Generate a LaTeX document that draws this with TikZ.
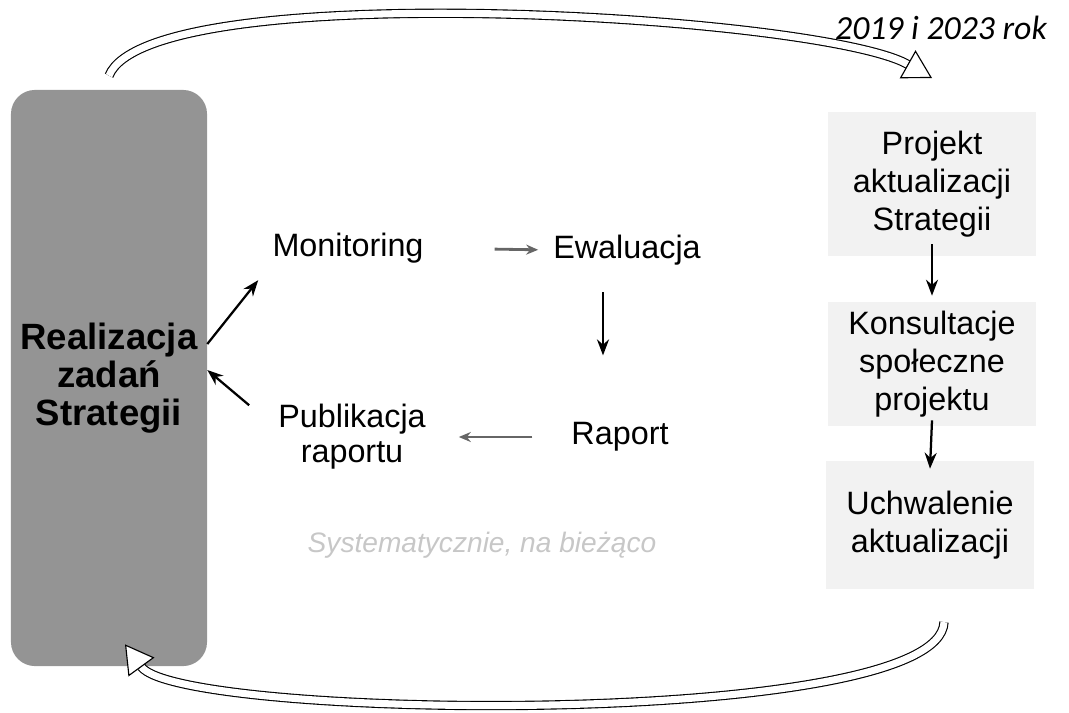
\documentclass[tikz,border=0pt]{standalone}
\usepackage{fontspec}
\setmainfont{Liberation Sans}
\newfontfamily\yearfont{Carlito}
\usetikzlibrary{arrows.meta, positioning, calc}

\begin{document}
\begin{tikzpicture}[
  x=0.025cm, y=-0.025cm,
  mainbox/.style={fill=black!42, rounded corners=0.6cm, minimum width=4.9cm, minimum height=14.4cm, align=center, font=\fontsize{26}{27}\selectfont\bfseries},
  stepbox/.style={fill=black!5, minimum width=5.2cm, align=center, font=\fontsize{23}{27}\selectfont},
  txt/.style={align=center, font=\fontsize{23}{25}\selectfont, inner sep=2pt},
  blk/.style={-{Stealth[length=4mm, width=3mm]}, line width=1.6pt},
  gry/.style={-{Stealth[length=3mm, width=2.5mm]}, line width=2pt, black!60},
  loop/.style={double=white, double distance=5pt, line width=0.8pt, -{Triangle[open, fill=white, length=7mm, width=8mm]}},
  note/.style={font=\fontsize{20}{24}\selectfont\itshape, black!22}
]
  \useasboundingbox (0,0) rectangle (1069,712);

  % Left block
  \node[mainbox] (real) at (109,378) {Realizacja\\zadań\\Strategii};

  % Cycle of monitoring
  \node[txt] (mon) at (348,248) {Monitoring};
  \node[txt] (ewa) at (627,250) {Ewaluacja};
  \node[txt] (rap) at (620,437) {Raport};
  \node[txt] (pub) at (352,437) {Publikacja\\raportu};
  \node[note] (sys) at (482,545) {Systematycznie, na bieżąco};

  \draw[blk] ([yshift=0.85cm]real.east) -- ([xshift=-0.28cm,yshift=-0.35cm]mon.south west);
  \draw[gry, shorten <=1.7cm, shorten >=0.3cm] (mon.east) -- (ewa.west);
  \draw[blk, shorten <=0.6cm, shorten >=1.6cm] ([xshift=-0.6cm]ewa.south) -- ([xshift=-0.6cm]ewa.south |- rap.north);
  \draw[gry, shorten <=0.9cm, shorten >=0.75cm] (rap.west) -- (pub.east);
  \draw[blk] ([xshift=-0.65cm,yshift=-0.1cm]pub.north west) -- ([yshift=0.2cm]real.east);

  % Update of the strategy
  \node[stepbox, minimum height=3.6cm] (proj) at (932,184) {Projekt\\aktualizacji\\Strategii};
  \node[stepbox, minimum height=3.1cm] (kons) at (932,364) {Konsultacje\\społeczne\\projektu};
  \node[stepbox, minimum height=3.2cm] (uchw) at (930,525) {Uchwalenie\\aktualizacji};
  \node[font=\fontsize{24}{28}\selectfont\yearfont\itshape] (year) at (941,28) {2019 i 2023 rok};

  \draw[blk] ([yshift=0.3cm]proj.south) -- ([yshift=0.15cm]kons.north);
  \draw[blk] ([yshift=0.15cm]kons.south) -- ([yshift=-0.2cm]uchw.north);

  % Loops between both parts
  \draw[loop] ([yshift=0.35cm]real.north) .. controls (150,-25) and (820,15) .. ([yshift=0.2cm]proj.north |- 0,86);
  \draw[loop] ([xshift=0.35cm,yshift=-0.82cm]uchw.south) .. controls (940,730) and (180,720) .. ([xshift=0.4cm,yshift=0.55cm]real.south);
\end{tikzpicture}
\end{document}
